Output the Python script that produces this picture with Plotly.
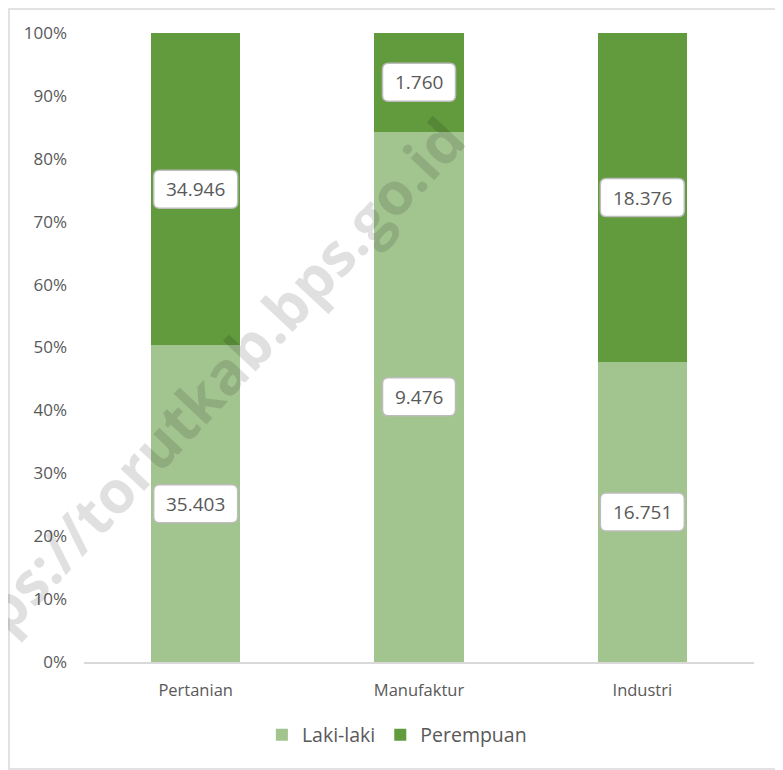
import plotly.graph_objects as go

categories = ["Pertanian", "Manufaktur", "Industri"]
laki_laki = [35403, 9476, 16751]
perempuan = [34946, 1760, 18376]
series_names = ["Laki-laki", "Perempuan"]
tick_vals = [i / 10 for i in range(11)]
tick_text = [f"{i * 10}%" for i in range(11)]

LIGHT = "#A2C48F"
DARK = "#629A3E"
TXT = "#595959"
FONT = "Open Sans"

fig = go.Figure()
fig.add_trace(go.Bar(x=categories, y=laki_laki, name=series_names[0],
                     marker=dict(color=LIGHT, line=dict(width=0)), width=0.4))
fig.add_trace(go.Bar(x=categories, y=perempuan, name=series_names[1],
                     marker=dict(color=DARK, line=dict(width=0)), width=0.4))


def fmt(v):
    return f"{v:,}".replace(",", ".")


def rounded_rect(w, h, r):
    return (f"M {-w + r},{-h} L {w - r},{-h} Q {w},{-h} {w},{-h + r} "
            f"L {w},{h - r} Q {w},{h} {w - r},{h} L {-w + r},{h} "
            f"Q {-w},{h} {-w},{h - r} L {-w},{-h + r} Q {-w},{-h} {-w + r},{-h} Z")


annotations = []
shapes = []
for c, l, p in zip(categories, laki_laki, perempuan):
    tot = l + p
    for val, center in ((l, l / 2 / tot), (p, (l + p / 2) / tot)):
        txt = fmt(val)
        half_w = 42 if len(txt) >= 6 else 36.5
        shapes.append(dict(
            type="path", xref="x", yref="y", xsizemode="pixel", ysizemode="pixel",
            xanchor=c, yanchor=center, path=rounded_rect(half_w, 19, 6),
            fillcolor="white", line=dict(color="#BCBCBC", width=1.5), layer="above",
        ))
        annotations.append(dict(
            x=c, y=center, xref="x", yref="y", text=txt, showarrow=False,
            xanchor="center", yanchor="middle",
            font=dict(family=FONT, size=19, color=TXT),
        ))

# watermark
annotations.append(dict(
    x=0.16, y=0.405, xref="paper", yref="paper", text="<b>https://torutkab.bps.go.id</b>",
    showarrow=False, textangle=-47, xanchor="center", yanchor="middle",
    font=dict(family=FONT, size=59, color="rgba(0,0,0,0.12)"),
))

# outer chart border
shapes.append(dict(type="rect", xref="paper", yref="paper",
                   x0=-0.112, x1=1.0403, y0=-0.17, y1=1.038,
                   line=dict(color="#D9D9D9", width=1.5), fillcolor="rgba(0,0,0,0)", layer="below"))

fig.update_layout(
    barmode="stack", barnorm="fraction",
    width=775, height=762,
    margin=dict(l=76, r=29, t=25, b=108, autoexpand=False),
    paper_bgcolor="white", plot_bgcolor="white",
    font=dict(family=FONT, color=TXT),
    showlegend=True,
    legend=dict(orientation="h", x=0.467, xanchor="center", y=-0.116, yanchor="middle",
                font=dict(family=FONT, size=19.5, color=TXT), traceorder="normal",
                itemwidth=30),
    annotations=annotations,
    shapes=shapes,
)
fig.update_xaxes(showgrid=False, showline=True, linecolor="#D9D9D9", linewidth=1.5,
                 tickfont=dict(family=FONT, size=16.5, color=TXT), ticks="", ticklabelstandoff=12,
                 range=[-0.5, 2.5])
fig.update_yaxes(range=[0, 1], tickvals=tick_vals, ticktext=tick_text, showgrid=False,
                 zeroline=False, showline=False, ticks="", ticklabelstandoff=16,
                 tickfont=dict(family=FONT, size=17, color=TXT))

fig.write_html("out.html")
